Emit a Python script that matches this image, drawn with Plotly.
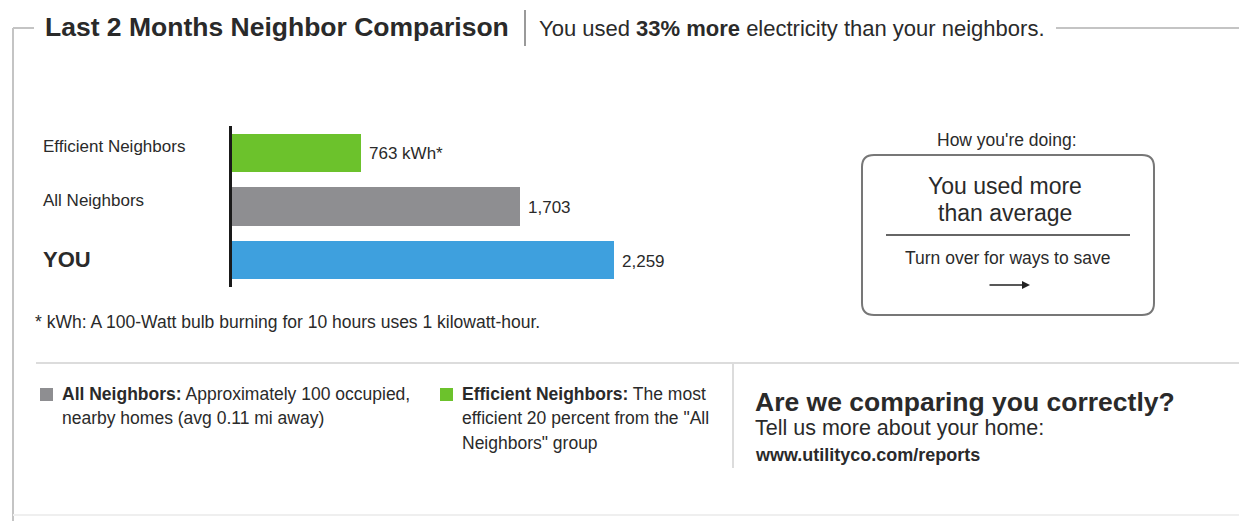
import plotly.graph_objects as go

# ---- data ----
categories = ["YOU", "All Neighbors", "Efficient Neighbors"]
usage_kwh = [2259, 1703, 763]
bar_colors = ["#3EA0DE", "#8E8E91", "#6CC22C"]
label_sizes = [22, 17, 17]
label_bold = [True, False, False]

W, H = 1239, 521
FONT = "Liberation Sans, Arial, sans-serif"
TXT = "#2a2a2a"


def px(x):
    return x / W


def py(y):
    return 1 - y / H


# horizontal scale: value 0 just right of the axis line, ~0.169 px per kWh
x0_pix, x1_pix = 231.5, 831.5
kwh_per_px = 1 / 0.169
x_max = (x1_pix - x0_pix) * kwh_per_px

fig = go.Figure()
fig.add_trace(go.Bar(
    y=categories,
    x=usage_kwh,
    orientation="h",
    marker=dict(color=bar_colors, line=dict(width=0)),
    width=0.71,
    hoverinfo="skip",
    showlegend=False,
))

annotations = []

# value labels at the end of each bar
value_labels = [f"{v:,}" for v in usage_kwh]
value_labels[2] = value_labels[2] + " kWh*"
for cat, v, lab in zip(categories, usage_kwh, value_labels):
    annotations.append(dict(
        x=v, y=cat, xref="x", yref="y", text=lab, showarrow=False,
        xanchor="left", yanchor="middle", xshift=7, yshift=-1,
        font=dict(family=FONT, size=17, color=TXT),
    ))

# category names, left aligned
cat_shift = {"YOU": 1, "All Neighbors": 6, "Efficient Neighbors": 6}
for cat, size, bold in zip(categories, label_sizes, label_bold):
    annotations.append(dict(
        x=px(41), y=cat, xref="paper", yref="y",
        text=f"<b>{cat}</b>" if bold else cat, showarrow=False,
        xanchor="left", yanchor="middle", yshift=cat_shift[cat],
        font=dict(family=FONT, size=size, color=TXT),
    ))


def text(x, y, s, size, anchor="left", color=TXT):
    annotations.append(dict(
        x=px(x), y=py(y), xref="paper", yref="paper", text=s,
        showarrow=False, xanchor=anchor, yanchor="middle",
        font=dict(family=FONT, size=size, color=color),
    ))


# header
text(43, 27, "<b>Last 2 Months Neighbor Comparison</b>", 26.5)
text(537, 28, "You used <b>33% more</b> electricity than your neighbors.", 22)

# footnote
text(33, 322, "* kWh: A 100-Watt bulb burning for 10 hours uses 1 kilowatt-hour.", 17.5)

# status box
text(1007, 140, "How you're doing:", 17.5, anchor="center")
text(1005, 186, "You used more", 23, anchor="center")
text(1005, 213, "than average", 23, anchor="center")
text(1008, 258, "Turn over for ways to save", 17.5, anchor="center")
annotations.append(dict(
    x=px(1030), y=py(285), xref="paper", yref="paper", text="",
    showarrow=True, ax=-42, ay=0, arrowhead=2, arrowsize=1,
    arrowwidth=1.6, arrowcolor="#222",
))

# legend descriptions
text(60, 394, "<b>All Neighbors:</b> Approximately 100 occupied,", 17.5)
text(60, 418, "nearby homes (avg 0.11 mi away)", 17.5)
text(460, 394, "<b>Efficient Neighbors:</b> The most", 17.5)
text(460, 418, "efficient 20 percent from the \"All", 17.5)
text(460, 443, "Neighbors\" group", 17.5)

# call to action
text(753, 402, "<b>Are we comparing you correctly?</b>", 26.5)
text(753, 428, "Tell us more about your home:", 21.5)
text(753, 455, "<b>www.utilityco.com/reports</b>", 18)

shapes = []


def line(x0, y0, x1, y1, color, width):
    shapes.append(dict(type="line", xref="paper", yref="paper",
                       x0=px(x0), y0=py(y0), x1=px(x1), y1=py(y1),
                       line=dict(color=color, width=width)))


def square(x0, y0, x1, y1, color):
    shapes.append(dict(type="rect", xref="paper", yref="paper",
                       x0=px(x0), y0=py(y0), x1=px(x1), y1=py(y1),
                       fillcolor=color, line=dict(width=0)))


# outer frame
line(13, 28, 13, 521, "#c4c4c4", 2)
line(13, 28, 34, 28, "#c4c4c4", 2)
line(1056, 28, 1239, 28, "#c4c4c4", 2)
line(525, 10, 525, 46, "#9a9a9a", 2)

# section dividers
line(36, 363, 1239, 363, "#dcdcdc", 2)
line(733, 363, 733, 468, "#dcdcdc", 2)
line(13, 515, 1239, 515, "#efefef", 2)

# legend swatches
square(40, 388, 53, 401, bar_colors[1])
square(440, 388, 453, 401, bar_colors[2])

# rounded status box
bx0, by0, bx1, by1, r = 862, 155, 1154, 315, 12
pts = [
    ("M", bx0 + r, by0), ("L", bx1 - r, by0), ("Q", bx1, by0, bx1, by0 + r),
    ("L", bx1, by1 - r), ("Q", bx1, by1, bx1 - r, by1),
    ("L", bx0 + r, by1), ("Q", bx0, by1, bx0, by1 - r),
    ("L", bx0, by0 + r), ("Q", bx0, by0, bx0 + r, by0),
]
path = ""
for p in pts:
    cmd, coords = p[0], p[1:]
    xy = []
    for i in range(0, len(coords), 2):
        xy.append(f"{px(coords[i]):.6f},{py(coords[i + 1]):.6f}")
    path += cmd + " ".join(xy) + " "
shapes.append(dict(type="path", xref="paper", yref="paper", path=path + "Z",
                   line=dict(color="#777777", width=2)))
line(886, 235, 1130, 235, "#333333", 1.5)

fig.update_layout(
    width=W, height=H,
    margin=dict(l=0, r=0, t=0, b=0),
    paper_bgcolor="white", plot_bgcolor="white",
    xaxis=dict(domain=[px(x0_pix), px(x1_pix)], range=[0, x_max],
               visible=False, fixedrange=True),
    yaxis=dict(domain=[py(287), py(126)], range=[-0.5, 2.5],
               showline=True, linecolor="#1a1a1a", linewidth=3,
               showticklabels=False, ticks="", showgrid=False,
               zeroline=False, fixedrange=True),
    bargap=0,
    annotations=annotations,
    shapes=shapes,
)

fig.write_html("out.html")
